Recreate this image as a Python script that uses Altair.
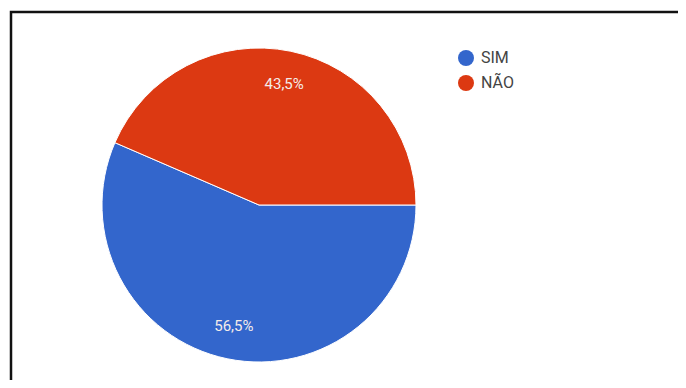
import math
import altair as alt
import pandas as pd

categories = ["SIM", "NÃO"]
values = [56.5, 43.5]
labels = ["56,5%", "43,5%"]
colors = ["#3366CC", "#DC3912"]

df = pd.DataFrame({"cat": categories, "val": values, "label": labels, "ord": [0, 1]})

PAD_L, PAD_T = 3, 4
W, H = 667, 368
CX, CY, R = 248, 193, 157

theta = alt.Theta("val:Q", stack=True,
                  scale=alt.Scale(range=[math.pi / 2, math.pi / 2 + 2 * math.pi]))

base = alt.Chart(df).encode(
    theta=theta,
    order=alt.Order("ord:Q"),
    x=alt.value(CX),
    y=alt.value(CY),
)

pie = base.mark_arc(radius=R, stroke="white", strokeWidth=1).encode(
    color=alt.Color("cat:N", sort=categories,
                    scale=alt.Scale(domain=categories, range=colors),
                    legend=alt.Legend(
                        title=None, orient="none", legendX=447, legendY=38,
                        symbolType="circle", symbolSize=256, symbolStrokeWidth=0,
                        labelFont="Roboto", labelFontSize=16, labelColor="#444444",
                        labelOffset=7, rowPadding=9, padding=0,
                    )),
)

text = base.mark_text(radius=124, font="Roboto", fontSize=15, color="#F4ECEA").encode(
    text="label:N",
)

chart = alt.layer(pie, text).properties(
    width=W, height=H,
    padding={"left": PAD_L, "top": PAD_T, "right": 0, "bottom": 0},
    autosize=alt.AutoSizeParams(type="none"),
    background="white",
).configure_view(
    stroke="#111111", strokeWidth=2.5, strokeDash=[W, W + H, H, W]
)

chart.save("out.html", embed_options={"renderer": "svg", "actions": False})
